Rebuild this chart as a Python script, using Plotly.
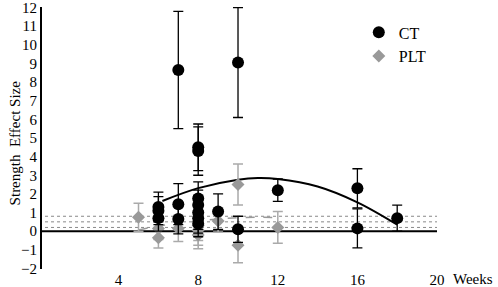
import plotly.graph_objects as go

# CT (continuous training) effect sizes
ct_weeks = [6, 6, 6, 7, 7, 7, 8, 8, 8, 8, 8, 8, 8, 9, 10, 10, 12, 16, 16, 18]
ct_es = [1.3, 1.1, 0.7, 8.65, 1.45, 0.65, 4.5, 4.3, 1.75, 1.4, 1.0, 0.7, 0.4, 1.05, 9.05, 0.1, 2.2, 2.3, 0.15, 0.7]
ct_err = [0.8, 0.75, 0.7, 3.15, 1.1, 0.8, 1.25, 1.3, 0.9, 0.8, 0.9, 0.8, 0.7, 0.95, 2.95, 0.7, 0.6, 1.05, 1.05, 0.7]

# PLT effect sizes
plt_weeks = [5, 6, 6, 7, 8, 8, 8, 9, 10, 10, 12]
plt_es = [0.75, -0.35, 0.15, 0.15, 0.3, 0.05, -0.2, 0.55, 2.5, -0.75, 0.2]
plt_err = [0.75, 0.55, 0.6, 0.7, 0.8, 0.8, 0.75, 0.6, 1.1, 0.95, 0.85]

# fitted curves
ct_fit_x = [6.2, 8, 10, 11, 12, 14, 16, 18]
ct_fit_y = [1.62, 2.31, 2.76, 2.85, 2.8, 2.4, 1.55, 0.35]
plt_fit_x = [5, 6, 7, 8, 9, 10, 11, 12]
plt_fit_y = [0.07, 0.28, 0.4, 0.55, 0.65, 0.72, 0.75, 0.73]

ref_lines = [0.2, 0.5, 0.8]
x_ticks = [4, 8, 12, 16, 20]
y_ticks = list(range(-2, 13))

FONT = "Liberation Serif"
GREY = "#999999"

fig = go.Figure()

fig.add_trace(go.Scatter(x=ct_fit_x, y=ct_fit_y, mode="lines", line=dict(color="black", width=2, shape="spline"),
                         showlegend=False, hoverinfo="skip"))
fig.add_trace(go.Scatter(x=plt_fit_x, y=plt_fit_y, mode="lines",
                         line=dict(color=GREY, width=1.5, dash="dash", shape="spline"),
                         showlegend=False, hoverinfo="skip"))

fig.add_trace(go.Scatter(x=plt_weeks, y=plt_es, mode="markers", name="PLT",
                         marker=dict(symbol="diamond", size=10, color=GREY),
                         error_y=dict(type="data", array=plt_err, color="#aaaaaa", thickness=1.5, width=5)))
fig.add_trace(go.Scatter(x=ct_weeks, y=ct_es, mode="markers", name="CT",
                         marker=dict(symbol="circle", size=12, color="black"),
                         error_y=dict(type="data", array=ct_err, color="black", thickness=1.3, width=5)))

shapes = []
for r in ref_lines:
    shapes.append(dict(type="line", xref="x", yref="y", x0=0, x1=20, y0=r, y1=r,
                       line=dict(color="#888888", width=1, dash="dot"), layer="below"))
shapes.append(dict(type="line", xref="x", yref="y", x0=0, x1=20, y0=0, y1=0,
                   line=dict(color="black", width=2), layer="below"))

fig.update_layout(
    width=498, height=287,
    margin=dict(l=42, r=61, t=7, b=18),
    paper_bgcolor="white", plot_bgcolor="white",
    font=dict(family=FONT, size=15, color="black"),
    shapes=shapes,
    legend=dict(x=0.802, y=0.968, xanchor="left", yanchor="top", bgcolor="rgba(0,0,0,0)",
                font=dict(family=FONT, size=16), traceorder="reversed", itemwidth=30, tracegroupgap=2),
    xaxis=dict(range=[0.15, 20], tickvals=x_ticks, showline=False, showgrid=False, zeroline=False,
               ticks="", tickfont=dict(family=FONT, size=15), automargin=False),
    yaxis=dict(range=[-2.03, 12.03], tickvals=y_ticks, showline=True, linecolor="black", linewidth=2,
               showgrid=False, zeroline=False, ticks="", tickfont=dict(family=FONT, size=15),
               ticklabeloverflow="allow", automargin=False),
    annotations=[
        dict(text="Weeks", xref="paper", yref="paper", x=1.148, y=-0.04, xanchor="right",
             yanchor="middle", showarrow=False, font=dict(family=FONT, size=15)),
        dict(text="Strength  Effect Size", xref="paper", yref="paper", x=-0.068, y=0.48,
             xanchor="center", yanchor="middle", textangle=-90, showarrow=False,
             font=dict(family=FONT, size=15)),
    ],
)

# remove the default page margin so the 498x287 figure fills the window exactly
fig.write_html("out.html", config={"displayModeBar": False},
               post_script="document.body.style.margin='0px';")
